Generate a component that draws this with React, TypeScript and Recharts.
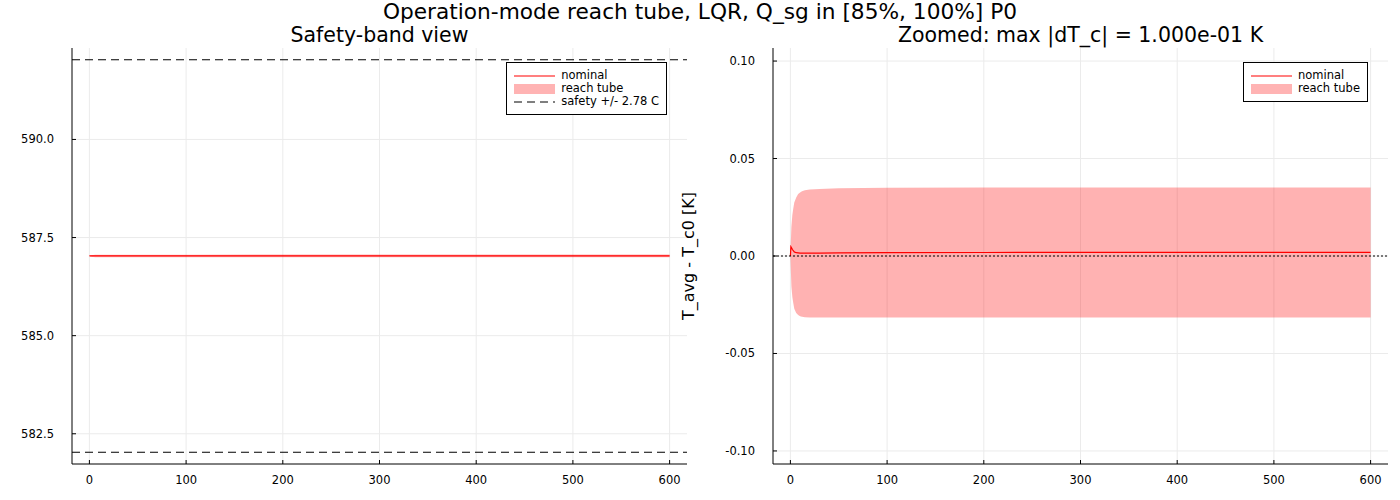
import React from 'react';
import { ComposedChart, Area, Line, XAxis, YAxis, CartesianGrid, ReferenceLine, Legend } from 'recharts';

// time [s] and deviations from T_c0 [K]
const timeS = [0, 0.5, 1, 2, 3, 4, 6, 8, 10, 12, 15, 20, 30, 50, 100, 200, 300, 400, 500, 600];
const nominalDT = [0, 0.0048, 0.0044, 0.0034, 0.0027, 0.0021, 0.0017, 0.0016, 0.0015, 0.0015, 0.0015, 0.0015, 0.0015, 0.0016, 0.0017, 0.0018, 0.0019, 0.0019, 0.0019, 0.0019];
const tubeUpper = [0, 0.008, 0.015, 0.021, 0.0245, 0.0275, 0.03, 0.0318, 0.0326, 0.0332, 0.0337, 0.0341, 0.0344, 0.0347, 0.035, 0.0351, 0.0352, 0.0352, 0.0352, 0.0352];
const tubeLower = [0, -0.008, -0.0155, -0.021, -0.0243, -0.027, -0.0293, -0.0303, -0.0309, -0.0312, -0.0314, -0.0315, -0.0316, -0.0316, -0.0316, -0.0316, -0.0316, -0.0316, -0.0316, -0.0316];

const T_C0 = 587.03;
const SAFETY_HI = 592.03;
const SAFETY_LO = 582.03;

const xTicks = [0, 100, 200, 300, 400, 500, 600];
const leftYTicks = [582.5, 585, 587.5, 590];
const rightYTicks = [-0.1, -0.05, 0, 0.05, 0.1];

const data = timeS.map((t, i) => ({
  t,
  dT: nominalDT[i],
  tube: [tubeLower[i], tubeUpper[i]],
  T: T_C0 + nominalDT[i],
  tubeAbs: [T_C0 + tubeLower[i], T_C0 + tubeUpper[i]],
}));

const FONT = '"DejaVu Sans", sans-serif';
const GRID = '#ebebeb';
const TICK_M = 18;

const makeYTick = (digits: number) => (props: any) => {
  const { x, y, payload } = props;
  return (
    <g>
      <line x1={x + TICK_M} x2={x + TICK_M + 4} y1={y} y2={y} stroke="#000" />
      <text x={x} y={y} dy={4} textAnchor="end" fontFamily={FONT} fontSize={11.5} fill="#000">
        {payload.value.toFixed(digits)}
      </text>
    </g>
  );
};

const XTick = (props: any) => {
  const { x, y, payload } = props;
  return (
    <g>
      <line x1={x} x2={x} y1={y - 8} y2={y - 12} stroke="#000" />
      <text x={x} y={y} dy={12} textAnchor="middle" fontFamily={FONT} fontSize={11.5} fill="#000">
        {payload.value}
      </text>
    </g>
  );
};

type Entry = { label: string; kind: 'line' | 'patch' | 'dash' };

const legendBox = (entries: Entry[]) => () => (
  <div
    style={{
      border: '1px solid #000',
      background: '#fff',
      padding: '6px 7px 6px 7px',
      fontFamily: FONT,
      fontSize: 11.5,
      lineHeight: '13px',
    }}
  >
    {entries.map((e) => (
      <div key={e.label} style={{ display: 'flex', alignItems: 'center', height: 13 }}>
        <svg width={41} height={12} style={{ marginRight: 6 }}>
          {e.kind === 'line' && <line x1={0} x2={41} y1={6} y2={6} stroke="#ff0000" strokeWidth={1.2} />}
          {e.kind === 'patch' && <rect x={0} y={1} width={41} height={10} fill="#ffb3b3" />}
          {e.kind === 'dash' && <line x1={0} x2={41} y1={6} y2={6} stroke="#000" strokeDasharray="8 5" strokeWidth={1.2} />}
        </svg>
        <span>{e.label}</span>
      </div>
    ))}
  </div>
);

export default function App() {
  return (
    <div style={{ position: 'absolute', left: 0, top: 0, width: 1400, height: 500, background: '#fff' }}>
      <div style={{ position: 'absolute', left: 0, width: 1400, top: 0, textAlign: 'center', fontFamily: FONT, fontSize: 21.7, lineHeight: '24px' }}>
        Operation-mode reach tube, LQR, Q_sg in [85%, 100%] P0
      </div>
      <div style={{ position: 'absolute', left: 72, width: 615, top: 24, textAlign: 'center', fontFamily: FONT, fontSize: 20.5, lineHeight: '22px' }}>
        Safety-band view
      </div>
      <div style={{ position: 'absolute', left: 773, width: 615, top: 24, textAlign: 'center', fontFamily: FONT, fontSize: 20.5, lineHeight: '22px' }}>
        Zoomed: max |dT_c| = 1.000e-01 K
      </div>

      <div style={{ position: 'absolute', left: 0, top: 0 }}>
        <ComposedChart width={700} height={500} data={data} margin={{ top: 48, right: 13, bottom: 0, left: 0 }}>
          <CartesianGrid stroke={GRID} strokeWidth={1} horizontalValues={leftYTicks} verticalValues={xTicks} />
          <XAxis dataKey="t" type="number" domain={[-18, 618]} ticks={xTicks} allowDataOverflow height={36}
            stroke="#000" tickLine={false} tickSize={0} tickMargin={8} tick={XTick} />
          <YAxis type="number" domain={[581.73, 592.33]} ticks={leftYTicks} allowDataOverflow width={72}
            stroke="#000" tickLine={false} tickSize={0} tickMargin={TICK_M} tick={makeYTick(1)} />
          <Area dataKey="tubeAbs" type="linear" stroke="none" fill="#ff0000" fillOpacity={0.3} isAnimationActive={false} />
          <Line dataKey="T" type="linear" stroke="#ff0000" strokeWidth={1.2} dot={false} isAnimationActive={false} />
          <ReferenceLine y={SAFETY_HI} stroke="#000" strokeDasharray="8 5" strokeWidth={1.2} />
          <ReferenceLine y={SAFETY_LO} stroke="#000" strokeDasharray="8 5" strokeWidth={1.2} />
          <Legend
            layout="horizontal"
            verticalAlign="middle"
            align="center"
            wrapperStyle={{ top: 62, left: 'auto', right: 33, width: 'auto' }}
            content={legendBox([
              { label: 'nominal', kind: 'line' },
              { label: 'reach tube', kind: 'patch' },
              { label: 'safety +/- 2.78 C', kind: 'dash' },
            ])}
          />
        </ComposedChart>
      </div>

      <div style={{ position: 'absolute', left: 700, top: 0 }}>
        <ComposedChart width={700} height={500} data={data} margin={{ top: 48, right: 12, bottom: 0, left: 0 }}>
          <CartesianGrid stroke={GRID} strokeWidth={1} horizontalValues={rightYTicks} verticalValues={xTicks} />
          <XAxis dataKey="t" type="number" domain={[-18, 618]} ticks={xTicks} allowDataOverflow height={36}
            stroke="#000" tickLine={false} tickSize={0} tickMargin={8} tick={XTick} />
          <YAxis type="number" domain={[-0.1067, 0.1067]} ticks={rightYTicks} allowDataOverflow width={73}
            stroke="#000" tickLine={false} tickSize={0} tickMargin={TICK_M} tick={makeYTick(2)} />
          <Area dataKey="tube" type="linear" stroke="none" fill="#ff0000" fillOpacity={0.3} isAnimationActive={false} />
          <Line dataKey="dT" type="linear" stroke="#ff0000" strokeWidth={1.2} dot={false} isAnimationActive={false} />
          <ReferenceLine y={0} stroke="#000" strokeDasharray="2 2" strokeWidth={1} />
          <Legend
            layout="horizontal"
            verticalAlign="middle"
            align="center"
            wrapperStyle={{ top: 62, left: 'auto', right: 32, width: 'auto' }}
            content={legendBox([
              { label: 'nominal', kind: 'line' },
              { label: 'reach tube', kind: 'patch' },
            ])}
          />
        </ComposedChart>
      </div>

      <div
        style={{
          position: 'absolute',
          left: 689 - 80,
          top: 256 - 10,
          width: 160,
          height: 20,
          lineHeight: '20px',
          textAlign: 'center',
          transform: 'rotate(-90deg)',
          fontFamily: FONT,
          fontSize: 16,
        }}
      >
        T_avg - T_c0 [K]
      </div>
    </div>
  );
}
